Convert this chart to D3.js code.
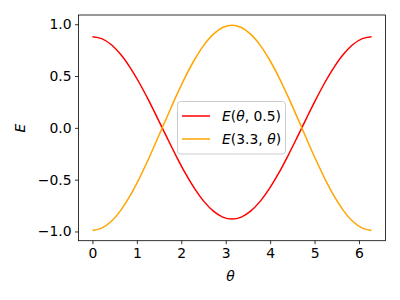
<!DOCTYPE html>
<html><head><meta charset="utf-8">
<script src="https://cdn.jsdelivr.net/npm/d3@7"></script>
<style>body{margin:0;background:#fff}svg{display:block}text{font-family:"DejaVu Sans",sans-serif}</style>
</head><body><svg id="c" width="400" height="300"></svg>
<script>
const theta = [0, 0.209, 0.419, 0.628, 0.838, 1.047, 1.257, 1.466, 1.676, 1.885, 2.094, 2.304, 2.513, 2.723, 2.932, 3.142, 3.351, 3.560, 3.770, 3.979, 4.189, 4.398, 4.608, 4.817, 5.027, 5.236, 5.445, 5.655, 5.864, 6.074, 6.283];
const redVals = [0.880, 0.861, 0.804, 0.712, 0.589, 0.440, 0.272, 0.092, -0.092, -0.272, -0.440, -0.589, -0.712, -0.804, -0.861, -0.880, -0.861, -0.804, -0.712, -0.589, -0.440, -0.272, -0.092, 0.092, 0.272, 0.440, 0.589, 0.712, 0.804, 0.861, 0.880];
const orangeVals = [-0.990, -0.968, -0.904, -0.801, -0.662, -0.495, -0.306, -0.103, 0.103, 0.306, 0.495, 0.662, 0.801, 0.904, 0.968, 0.990, 0.968, 0.904, 0.801, 0.662, 0.495, 0.306, 0.103, -0.103, -0.306, -0.495, -0.662, -0.801, -0.904, -0.968, -0.990];
const xTicks = [0, 1, 2, 3, 4, 5, 6];
const yTicks = [-1.0, -0.5, 0.0, 0.5, 1.0];
const seriesNames = [["E", "(", "θ", ", 0.5)"], ["E", "(3.3, ", "θ", ")"]];
const colors = ["#ff0000", "#ffa500"];

const svg = d3.select("#c");
const L = 78.5, R = 385.5, T = 15, B = 240.7;
const x = d3.scaleLinear().domain([-0.314, 6.597]).range([L, R]);
const y = d3.scaleLinear().domain([-1.089, 1.089]).range([B, T]);

const xa = svg.append("g").attr("transform", `translate(0,${B})`)
  .call(d3.axisBottom(x).tickValues(xTicks).tickSize(3.5).tickPadding(3.5).tickFormat(d3.format("d")));
const ya = svg.append("g").attr("transform", `translate(${L},0)`)
  .call(d3.axisLeft(y).tickValues(yTicks).tickSize(3.5).tickPadding(3.5).tickFormat(d => d3.format(".1f")(d).replace("-", "\u2212")));
[xa, ya].forEach(a => {
  a.select(".domain").remove();
  a.selectAll("line").attr("stroke", "#000").attr("stroke-width", 0.8);
  a.selectAll("text").attr("font-size", 13.9).attr("fill", "#000").attr("font-family", "DejaVu Sans");
});

const series = [redVals, orangeVals];
const line = d3.line().x((d, i) => x(theta[i])).y(d => y(d)).curve(d3.curveCatmullRom);
series.forEach((s, k) => {
  svg.append("path").datum(s).attr("d", line).attr("fill", "none")
    .attr("stroke", colors[k]).attr("stroke-width", 1.5);
});

svg.append("rect").attr("x", L).attr("y", T).attr("width", R - L).attr("height", B - T)
  .attr("fill", "none").attr("stroke", "#000").attr("stroke-width", 0.8);

// labels
function mathText(g, parts, attrs) {
  const t = g.append("text");
  Object.entries(attrs).forEach(([k, v]) => t.attr(k, v));
  parts.forEach(p => {
    const italic = (p === "E" || p === "θ");
    t.append("tspan").text(p).attr("font-style", italic ? "italic" : "normal");
  });
  return t;
}
mathText(svg, ["θ"], {x: 230.5, y: 281, "text-anchor": "middle", "font-size": 13.9});
svg.append("text").text("E").attr("font-style", "italic").attr("font-size", 13.9)
  .attr("text-anchor", "middle").attr("transform", "translate(25,128) rotate(-90)");

// legend
const lg = svg.append("g");
lg.append("rect").attr("x", 177.5).attr("y", 101.5).attr("width", 108).attr("height", 52.5)
  .attr("rx", 3).attr("fill", "#fff").attr("fill-opacity", 0.8).attr("stroke", "#cccccc").attr("stroke-width", 1);
seriesNames.forEach((n, k) => {
  const yy = 116 + k * 23;
  lg.append("line").attr("x1", 182).attr("x2", 210).attr("y1", yy).attr("y2", yy)
    .attr("stroke", colors[k]).attr("stroke-width", 1.5);
  mathText(lg, n, {x: 222, y: yy + 5, "font-size": 13.9});
});
</script></body></html>
